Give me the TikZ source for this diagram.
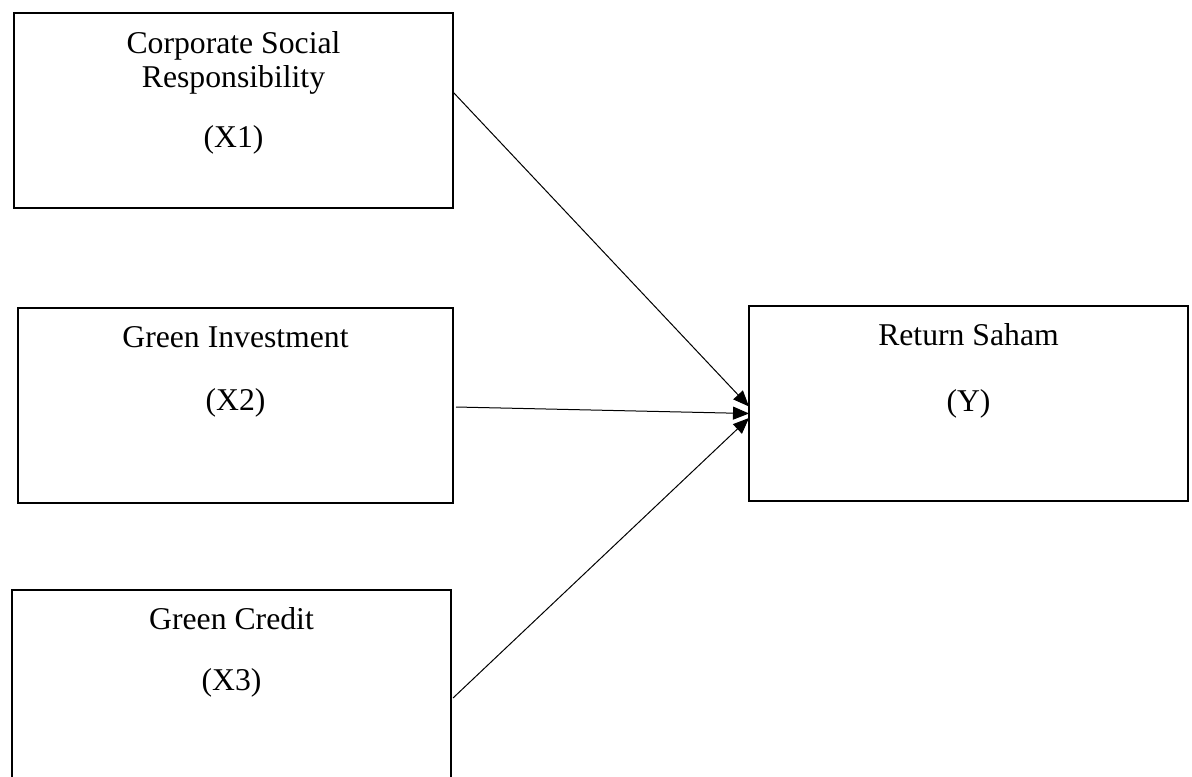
\documentclass[tikz,border=0pt]{standalone}
\usepackage{fontspec}
\setmainfont{Liberation Serif}
\usetikzlibrary{arrows.meta}
\begin{document}
\begin{tikzpicture}[x=0.5pt,y=-0.5pt,
  box/.style={draw=black, line width=0.7pt, rectangle, inner sep=0pt, outer sep=0pt},
  lbl/.style={anchor=base, inner sep=0pt, font=\fontsize{15.85pt}{17pt}\selectfont},
  link/.style={line width=0.5pt, -{Triangle[length=8pt,width=6.5pt]}}]
\useasboundingbox (0,0) rectangle (1192,776);
\clip (0,0) rectangle (1192,776);
\fill[white] (0,0) rectangle (1192,776);

% boxes
\node[box, minimum width=219.5pt, minimum height=97.5pt] (x1) at (233.5,110.5) {};
\node[box, minimum width=217.5pt, minimum height=97.5pt] (x2) at (235.5,405.5) {};
\node[box, minimum width=219.5pt, minimum height=97.5pt] (x3) at (231.5,687.5) {};
\node[box, minimum width=219.5pt, minimum height=97.5pt] (yv) at (968.5,403.5) {};

% texts
\node[lbl] (t1a) at (233.5,53.3) {Corporate Social};
\node[lbl] (t1b) at (233.5,87.7) {Responsibility};
\node[lbl] (t1c) at (233.5,147.7) {(X1)};
\node[lbl] (t2a) at (235.5,347.5) {Green Investment};
\node[lbl] (t2b) at (235.5,410.5) {(X2)};
\node[lbl] (t3a) at (231.5,629) {Green Credit};
\node[lbl] (t3b) at (231.5,690) {(X3)};
\node[lbl] (tya) at (968.5,345.5) {Return Saham};
\node[lbl] (tyb) at (968.5,411) {(Y)};

% connectors
\draw[link] ([yshift=9.25pt]x1.east) -- ([yshift=-1.5pt]yv.west);
\draw[link] ([xshift=1.5pt,yshift=-0.75pt]x2.east) -- ([yshift=-5pt]yv.west);
\draw[link] ([xshift=1pt,yshift=-5.25pt]x3.east) -- ([yshift=-7.25pt]yv.west);
\end{tikzpicture}
\end{document}
